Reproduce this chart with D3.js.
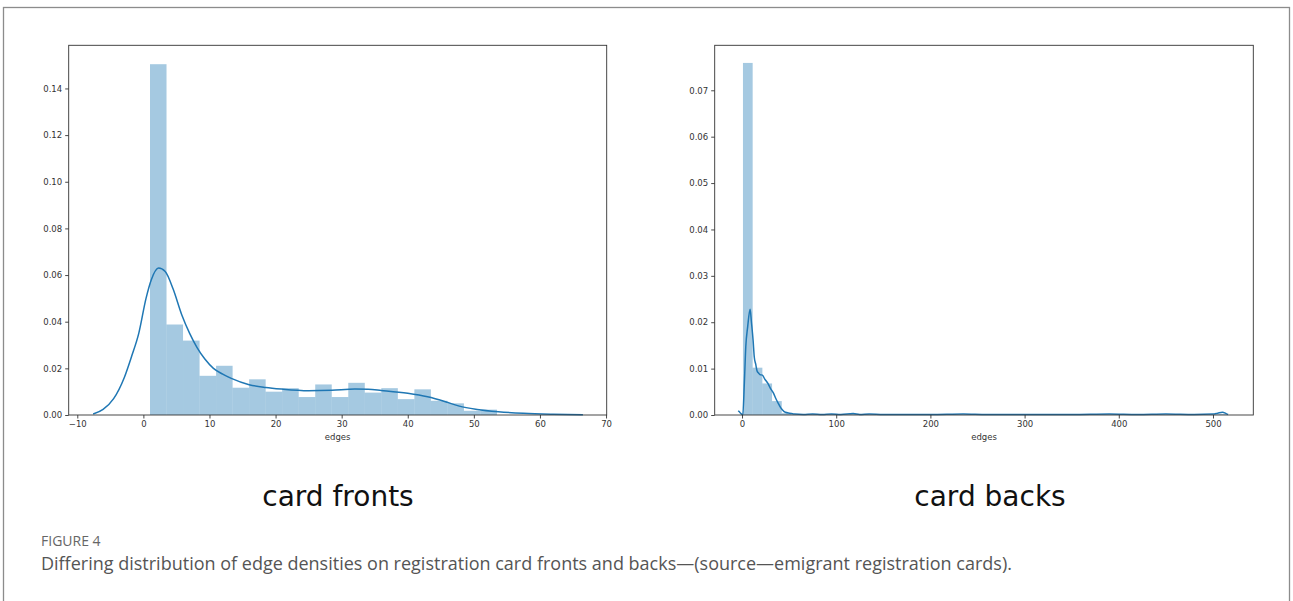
<!DOCTYPE html>
<html>
<head>
<meta charset="utf-8">
<script src="https://cdn.jsdelivr.net/npm/d3@7"></script>
<style>
  body { margin: 0; background: #fff; }
  svg { display: block; }
</style>
</head>
<body>
<script>
// histogram + kde, card fronts (links)
var frontBinEdges = [1, 3.5, 6, 8.5, 11, 13.5, 16, 18.5, 21, 23.5, 26, 28.5, 31, 33.5, 36, 38.5, 41, 43.5, 46, 48.5, 51, 53.5];
var frontDensity = [0.1504, 0.0388, 0.0319, 0.0168, 0.0211, 0.0117, 0.0153, 0.0100, 0.0115, 0.0077, 0.0131,
                    0.0077, 0.0138, 0.0096, 0.0115, 0.0068, 0.0110, 0.0061, 0.0050, 0.0018, 0.0023];
var frontKde = [[-7.6,0.0004],[-6.1,0.0024],[-4.5,0.007],[-2.9,0.016],[-1.8,0.025],[-0.7,0.035],[0.4,0.05],
                [1.2,0.058],[2.3,0.063],[3.3,0.0615],[4.5,0.054],[5.8,0.043],[7,0.035],[8.1,0.029],[9.3,0.024],
                [10.6,0.020],[12,0.0175],[13.3,0.0157],[16,0.0130],[18.5,0.0118],[20.9,0.0111],[25,0.0104],
                [28.5,0.0106],[32,0.0111],[34,0.011],[36,0.0105],[40,0.0093],[43,0.0078],[45.7,0.0057],
                [47.8,0.0038],[50.5,0.0024],[53.7,0.0014],[57.5,0.0007],[62,0.0003],[66.5,0.0001]];
var frontXTicks = [-10, 0, 10, 20, 30, 40, 50, 60, 70];
var frontYTicks = [0, 0.02, 0.04, 0.06, 0.08, 0.10, 0.12, 0.14];

// card backs (rechts)
var backBinEdges = [1, 11.3, 21.6, 31.9, 42.2, 52.5, 62.8, 73.1, 83.4, 93.7, 104, 114.3, 124.6, 134.9, 145.2,
                    155.5, 165.8, 176.1, 186.4, 196.7, 207, 217.3, 227.6, 237.9, 248.2, 258.5, 268.8, 279.1,
                    289.4, 299.7, 310, 320.3, 330.6, 340.9, 351.2, 361.5, 371.8, 382.1, 392.4, 402.7, 413,
                    423.3, 433.6, 443.9, 454.2, 464.5, 474.8, 485.1, 495.4, 505.7, 516];
var backDensity = [0.0759, 0.0102, 0.0068, 0.0030, 0.0004, 0.0001, 0.0001, 0.0002, 0.0001, 0.0002, 0.0001,
                   0.0002, 0.0002, 0.0001, 0.0001, 0.0001, 0.0001, 0, 0.0001, 0, 0.0001, 0.0001, 0, 0.0001,
                   0, 0, 0.0001, 0, 0, 0.0001, 0, 0, 0, 0, 0, 0, 0, 0.0001, 0.0001, 0, 0, 0, 0, 0, 0.0001,
                   0, 0, 0, 0.0001, 0.0002];
var backKde = [[-4,0.0009],[-2,0.0005],[0.8,0.0000],[2.5,0.007],[4,0.0147],[6,0.019],[8.6,0.0228],[10,0.020],
               [11.8,0.016],[13,0.0125],[14.5,0.011],[16,0.0095],[17.7,0.009],[19,0.0087],[21.6,0.0086],
               [24,0.0078],[27.5,0.0068],[30,0.0058],[33.4,0.0047],[36,0.0035],[38.5,0.0025],[41,0.0016],
               [43,0.0011],[46,0.0006],[51,0.0004],[56,0.0002],[65,0.0001],[75,0.0002],[85,0.0001],
               [95,0.0002],[105,0.0001],[118,0.0003],[125,0.0001],[135,0.0002],[150,0.0001],[175,0.0001],
               [200,0.0001],[235,0.0002],[260,0.0001],[300,0.0001],[350,0.0001],[390,0.0002],[420,0.0001],
               [450,0.0002],[480,0.0001],[500,0.0002],[505,0.0004],[510,0.0006],[514,0.0003],[516,0.0001]];
var backXTicks = [0, 100, 200, 300, 400, 500];
var backYTicks = [0, 0.01, 0.02, 0.03, 0.04, 0.05, 0.06, 0.07];

var panelTitles = ["card fronts", "card backs"];
var figureLabel = "FIGURE 4";
var captionText = "Differing distribution of edge densities on registration card fronts and backs\u2014(source\u2014emigrant registration cards).";

var W = 1293, H = 601;
var svg = d3.select("body").append("svg")
    .attr("width", W)
    .attr("height", H);

// kader rond de figuur
svg.append("rect")
    .attr("x", 3.5).attr("y", 7.5)
    .attr("width", 1286).attr("height", 620)
    .attr("fill", "none")
    .attr("stroke", "#8c8c8c")
    .attr("stroke-width", 1.3);

var fmtMinus = function(d) { return String(d).replace("-", "\u2212"); };

function drawPanel(p) {
  var x = d3.scaleLinear().domain(p.xDomain).range([p.left, p.right]);
  var y = d3.scaleLinear().domain(p.yDomain).range([p.bottom, p.top]);
  var g = svg.append("g");

  // bars
  var bins = p.density.map(function(v, i) { return {x0: p.edges[i], x1: p.edges[i + 1], v: v}; });
  g.selectAll("rect.bar")
    .data(bins)
    .enter().append("rect")
      .attr("class", "bar")
      .attr("x", function(d) { return x(d.x0); })
      .attr("width", function(d) { return x(d.x1) - x(d.x0); })
      .attr("y", function(d) { return y(d.v); })
      .attr("height", function(d) { return y(0) - y(d.v); })
      .attr("fill", "#1f77b4")
      .attr("fill-opacity", 0.4);

  // kde lijn
  var line = d3.line()
      .x(function(d) { return x(d[0]); })
      .y(function(d) { return y(d[1]); })
      .curve(d3.curveMonotoneX);
  g.append("path")
    .datum(p.kde)
    .attr("d", line)
    .attr("fill", "none")
    .attr("stroke", "#1f77b4")
    .attr("stroke-width", 1.5);

  // assen
  var xAxis = g.append("g")
      .attr("transform", "translate(0," + p.bottom + ")")
      .call(d3.axisBottom(x).tickValues(p.xTicks).tickFormat(fmtMinus).tickSize(3.5).tickPadding(2.5));
  var yAxis = g.append("g")
      .attr("transform", "translate(" + p.left + ",0)")
      .call(d3.axisLeft(y).tickValues(p.yTicks).tickFormat(d3.format(".2f")).tickSize(3.5).tickPadding(3));
  [xAxis, yAxis].forEach(function(a) {
    a.select(".domain").remove();
    a.selectAll("line").attr("stroke", "#333").attr("stroke-width", 0.9);
    a.selectAll("text").attr("fill", "#333")
      .style("font-family", "DejaVu Sans").style("font-size", "8.5px");
  });

  // kader van het plot
  g.append("rect")
    .attr("x", p.left).attr("y", p.top)
    .attr("width", p.right - p.left).attr("height", p.bottom - p.top)
    .attr("fill", "none")
    .attr("stroke", "#333")
    .attr("stroke-width", 0.9);

  g.append("text")
    .attr("x", (p.left + p.right) / 2)
    .attr("y", p.bottom + 25)
    .attr("text-anchor", "middle")
    .attr("fill", "#333")
    .style("font-family", "DejaVu Sans")
    .style("font-size", "8.5px")
    .text("edges");

  svg.append("text")
    .attr("x", p.titleX)
    .attr("y", 506)
    .attr("text-anchor", "middle")
    .attr("fill", "#111")
    .style("font-family", "DejaVu Sans")
    .style("font-size", "28px")
    .text(p.title);
}

drawPanel({
  left: 68.7, right: 606.7, top: 45.3, bottom: 415,
  xDomain: [-11.3, 70.1], yDomain: [0, 0.1585],
  edges: frontBinEdges, density: frontDensity, kde: frontKde,
  xTicks: frontXTicks, yTicks: frontYTicks,
  title: panelTitles[0], titleX: 338
});

drawPanel({
  left: 714.7, right: 1253.3, top: 45.3, bottom: 415,
  xDomain: [-29, 542.8], yDomain: [0, 0.0797],
  edges: backBinEdges, density: backDensity, kde: backKde,
  xTicks: backXTicks, yTicks: backYTicks,
  title: panelTitles[1], titleX: 990
});

// onderschrift
svg.append("text")
  .attr("x", 41).attr("y", 546)
  .attr("fill", "#666")
  .style("font-family", "Open Sans")
  .style("font-size", "14px")
  .text(figureLabel);

svg.append("text")
  .attr("x", 41).attr("y", 570)
  .attr("fill", "#555")
  .style("font-family", "Open Sans")
  .style("font-size", "18px")
  .text(captionText);
</script>
</body>
</html>
